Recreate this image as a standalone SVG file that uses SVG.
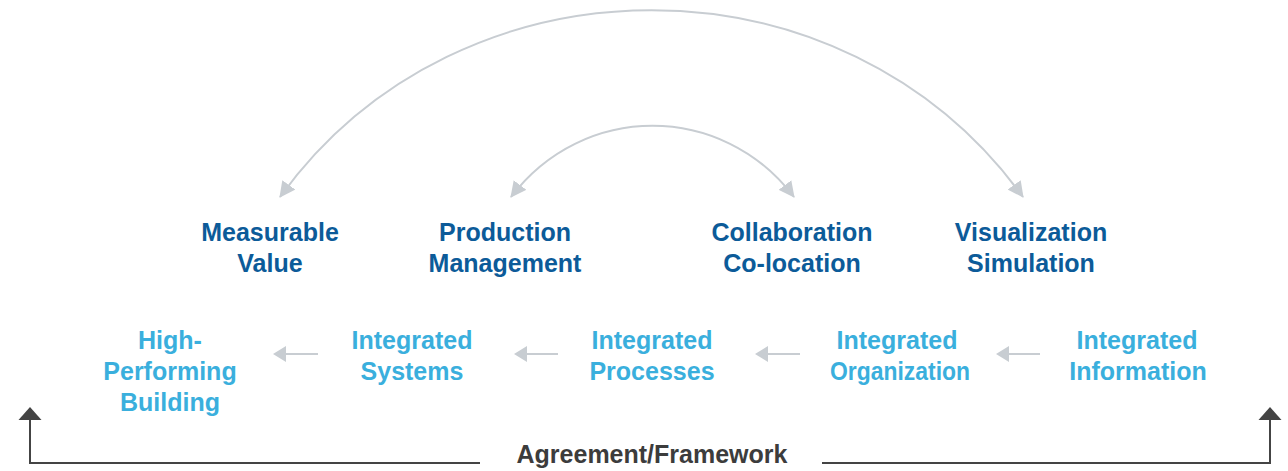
<svg xmlns="http://www.w3.org/2000/svg" width="1288" height="471" viewBox="0 0 1288 471">
<defs>
<style>
text{font-family:"Liberation Sans",Arial,sans-serif;font-weight:bold;font-size:25px;text-anchor:middle}
.dk{fill:#0c5b99}
.lt{fill:#3aafdd}
.fw{fill:#3c3c3c}
.arc{fill:none;stroke:#c8cdd2;stroke-width:2}
.flow{fill:none;stroke:#c8cdd2;stroke-width:2}
.frame{fill:none;stroke:#444;stroke-width:2}
</style>
<marker id="gh" markerUnits="userSpaceOnUse" markerWidth="16" markerHeight="16" refX="15" refY="8" orient="auto-start-reverse" viewBox="0 0 16 16">
<path d="M0,0 L16,8 L0,16 z" fill="#c8cdd2"/>
</marker>
</defs>
<g id="connectors">
<path class="arc" d="M280,197 C460,-52 843,-52 1023,197" marker-start="url(#gh)" marker-end="url(#gh)"/>
<path class="arc" d="M511,197 C583,102 722,102 794,197" marker-start="url(#gh)" marker-end="url(#gh)"/>
<g>
<path class="flow" d="M318,354 H284"/><path d="M273,354 L286,346 L286,362 z" fill="#c8cdd2"/>
<path class="flow" d="M558,354 H525"/><path d="M514,354 L527,346 L527,362 z" fill="#c8cdd2"/>
<path class="flow" d="M800,354 H766"/><path d="M755,354 L768,346 L768,362 z" fill="#c8cdd2"/>
<path class="flow" d="M1040,354 H1007"/><path d="M996,354 L1009,346 L1009,362 z" fill="#c8cdd2"/>
</g>
<g>
<path class="frame" d="M30,418 V463 H480"/><path d="M30,407 L41.5,420 L18.5,420 z" fill="#444"/>
<path class="frame" d="M822,463 H1270 V418"/><path d="M1270,407 L1281.5,420 L1258.5,420 z" fill="#444"/>
</g>
</g>
<g id="measurable-value"><text class="dk" x="270" y="241">Measurable</text><text class="dk" x="270" y="272">Value</text></g>
<g id="production-management"><text class="dk" x="505" y="241">Production</text><text class="dk" x="505" y="272">Management</text></g>
<g id="collaboration-colocation"><text class="dk" x="792" y="241">Collaboration</text><text class="dk" x="792" y="272">Co-location</text></g>
<g id="visualization-simulation"><text class="dk" x="1031" y="241">Visualization</text><text class="dk" x="1031" y="272">Simulation</text></g>
<g id="high-performing-building"><text class="lt" x="170" y="349">High-</text><text class="lt" x="170" y="380">Performing</text><text class="lt" x="170" y="411">Building</text></g>
<g id="integrated-systems"><text class="lt" x="412" y="349">Integrated</text><text class="lt" x="412" y="380">Systems</text></g>
<g id="integrated-processes"><text class="lt" x="652" y="349">Integrated</text><text class="lt" x="652" y="380">Processes</text></g>
<g id="integrated-organization"><text class="lt" x="897" y="349">Integrated</text><text class="lt" x="900" y="380" textLength="140" lengthAdjust="spacingAndGlyphs">Organization</text></g>
<g id="integrated-information"><text class="lt" x="1137" y="349">Integrated</text><text class="lt" x="1138" y="380">Information</text></g>
<g id="agreement-framework"><text class="fw" x="652" y="463">Agreement/Framework</text></g>
</svg>
